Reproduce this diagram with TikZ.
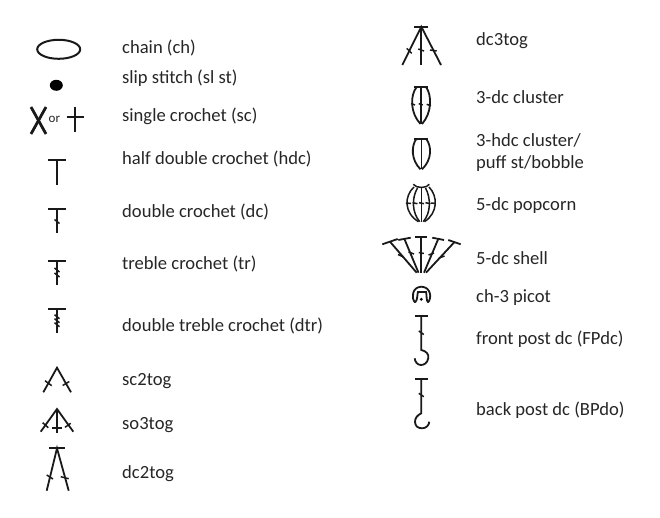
\documentclass[tikz,border=0pt]{standalone}
\usepackage{fontspec}
\setmainfont{Carlito}
\tikzset{>=stealth}
\tikzset{
    lbl/.style={anchor=west,inner sep=0pt,font=\fontsize{18.6}{22}\selectfont,text=black!85},
    sym/.style={line width=1.8pt,black!90},
    tick/.style={line width=1.5pt,black!90}
}

\begin{document}
\begin{tikzpicture}[x=1pt,y=-1pt]
    \useasboundingbox (0,0) rectangle (660,518);
    \def\lx{57}
    \def\rx{421.3}

    %left symbols
    \draw[sym,line width=2pt] (58.7,49.3) ellipse (21.5 and 9.5);
    \fill[black] (56.3,85.3) ellipse (6.5 and 5.5);
    \draw[sym,line width=2.8pt] (31,107) -- (46,134);
    \draw[sym,line width=2.8pt] (46,107) -- (31,134);
    \node[lbl,font=\fontsize{13}{15}\selectfont] (ortext) at (48.5,119) {or};
    \draw[sym] (75,106.7) -- (75,131.7);
    \draw[sym] (66.7,116.7) -- (84,116.7);

    \draw[sym] (\lx-9,160.3) -- (\lx+9,160.3);
    \draw[sym] (\lx,160.3) -- (\lx,185);

    \draw[sym] (\lx-9,209) -- (\lx+9,209);
    \draw[sym] (\lx,209) -- (\lx,233);
    \draw[tick] (\lx-2.5,219.5) -- (\lx+2.5,223.5);

    \draw[sym] (\lx-9,260.7) -- (\lx+9,260.7);
    \draw[sym] (\lx,260.7) -- (\lx,285);
    \draw[tick] (\lx-2.5,268) -- (\lx+2.5,272);
    \draw[tick] (\lx-2.5,273) -- (\lx+2.5,277);

    \draw[sym] (\lx-9,308.7) -- (\lx+9,308.7);
    \draw[sym] (\lx,308.7) -- (\lx,333.3);
    \draw[tick] (\lx-2.5,314.7) -- (\lx+2.5,318.7);
    \draw[tick] (\lx-2.5,318.7) -- (\lx+2.5,322.7);
    \draw[tick] (\lx-2.5,322.7) -- (\lx+2.5,326.7);

    \draw[sym] (43.3,392.3) -- (\lx,367.7) -- (71,392.3);
    \draw[tick] (45,380.7) -- (51.7,385.7);
    \draw[tick] (62.7,385.5) -- (69.3,381.5);

    \draw[sym] (40.7,431.7) -- (\lx,409) -- (73.3,431.7);
    \draw[sym,line width=2.3pt] (\lx,409) -- (\lx,432.7);
    \draw[sym,line width=2.3pt] (52.3,427.7) -- (61.7,427.7);
    \draw[tick] (42.7,422.7) -- (48.3,427.7);
    \draw[tick] (65,427.3) -- (70.7,423.3);

    \draw[sym] (49,448.3) -- (65,448.3);
    \draw[sym] (46.7,490.7) -- (\lx,448.3) -- (68.7,490.7);
    \draw[tick] (46.7,475) -- (53,479);
    \draw[tick] (60.7,476.7) -- (68.7,478.7);

    %right symbols
    \draw[sym] (\rx-7,26.7) -- (\rx+7,26.7);
    \draw[sym] (402.3,65) -- (\rx,26.7) -- (441,65);
    \draw[sym] (\rx,26.7) -- (\rx,65);
    \draw[tick] (406.7,48.3) -- (411.7,53.3);
    \draw[tick] (418.3,49) -- (424,51);
    \draw[tick] (430,50) -- (436.7,51);

    \draw[sym] (\rx-7,87) -- (\rx+7,87);
    \draw[sym] (\rx,87) -- (\rx,124);
    \draw[sym] (416.7,87) .. controls (410,95) and (410,113) .. (420.5,124);
    \draw[sym] (426,87) .. controls (432,95) and (432,113) .. (422,124);
    \draw[tick] (411,103.5) -- (415,105);
    \draw[tick] (418.7,103.7) -- (422.7,105);
    \draw[tick] (426.7,104.3) -- (431,105.7);

    \draw[sym] (\rx-7,138.7) -- (\rx+7,138.7);
    \draw[line width=1.3pt,black!90] (\rx,138.7) -- (\rx,169.3);
    \draw[sym] (416.5,138.7) .. controls (411,146) and (411,160) .. (420.5,169.3);
    \draw[sym] (426,138.7) .. controls (432,146) and (432,160) .. (422,169.3);

    \draw[sym,line width=1.5pt] (413.3,184.3) .. controls (416,188.5) and (427,188.5) .. (429.3,184.3);
    \draw[sym,line width=1.5pt] (\rx,187.5) -- (\rx,221.7);
    \draw[sym,line width=1.5pt] (414,187) .. controls (404,196) and (404,213) .. (418.5,221.7);
    \draw[sym,line width=1.5pt] (429,187) .. controls (438,196) and (438,213) .. (424.5,221.7);
    \draw[sym,line width=1.5pt] (417.5,188) .. controls (411.5,198) and (412,213) .. (419.8,221.7);
    \draw[sym,line width=1.5pt] (425.5,188) .. controls (431,198) and (431,213) .. (423.2,221.7);
    \draw[tick] (406,203) -- (411,203.5);
    \draw[tick] (412.5,202.7) -- (417.5,203.7);
    \draw[tick] (419,202.7) -- (424,203.7);
    \draw[tick] (425.5,202.7) -- (430.5,203.7);
    \draw[tick] (431,203) -- (435.7,203.5);

    %shell
    \draw[sym] (415,237.3) -- (427,237.3);
    \draw[sym] (\rx,237.3) -- (\rx,272.7);
    \draw[sym] (398.3,240) -- (410.7,237.7);
    \draw[sym] (404.3,238.7) -- (418.5,272.7);
    \draw[sym] (432.3,237.7) -- (444,240);
    \draw[sym] (438.3,238.8) -- (424,272.7);
    \draw[sym] (382.3,244.3) -- (397.7,239);
    \draw[sym] (390,241.7) -- (416.7,272.7);
    \draw[sym] (448.3,240) -- (460.7,244.3);
    \draw[sym] (454.5,242) -- (426,272.7);
    \draw[tick] (398,254.5) -- (403.5,257);
    \draw[tick] (408.5,252) -- (414,254);
    \draw[tick] (\rx-2.5,252.5) -- (\rx+2.5,253.5);
    \draw[tick] (428.5,255) -- (434,253);
    \draw[tick] (439,258) -- (444.5,256);

    %picot
    \draw[sym] (415,302.5) .. controls (411,298) and (412,287) .. (\rx,286.7) .. controls (431,287) and (432,298) .. (428,302.5);
    \draw[sym] (415,302.5) .. controls (418,300) and (417,294) .. (418,292) -- (426,292) .. controls (427,295) and (426,300) .. (428,302.5);
    \fill[black] (\rx,299.3) circle (1.6);

    %post stitches
    \draw[sym] (415,315.7) -- (428.3,315.7);
    \draw[sym] (\rx,315.7) -- (\rx,350) .. controls (426,351) and (429,354) .. (428.3,358) .. controls (427.5,363) and (424,365) .. (421,365) .. controls (417.5,365) and (415,362) .. (414.7,358.3);
    \draw[tick] (\rx-2.5,331) -- (\rx+2.5,334.5);

    \draw[sym] (415,378.7) -- (428.3,378.7);
    \draw[sym] (\rx,378.7) -- (\rx,413.3) .. controls (417.5,415) and (415,418) .. (415,421.7) .. controls (415,426) and (418,428.3) .. (422,428.3) .. controls (426,428.3) and (429,425.5) .. (429.3,421.7);
    \draw[tick] (\rx-2.5,393.3) -- (\rx+2.5,396.7);

    %labels
    \node[lbl] (chain) at (122,47.5) {chain (ch)};
    \node[lbl] (slip) at (122,78.5) {slip stitch (sl st)};
    \node[lbl] (sc) at (122,116.5) {single crochet (sc)};
    \node[lbl] (hdc) at (122,158.5) {half double crochet (hdc)};
    \node[lbl] (dc) at (122,211.5) {double crochet (dc)};
    \node[lbl] (tr) at (122,263.5) {treble crochet (tr)};
    \node[lbl] (dtr) at (122,325.5) {double treble crochet (dtr)};
    \node[lbl] (sctwo) at (122,381.5) {sc2tog};
    \node[lbl] (sothree) at (122,425.5) {so3tog};
    \node[lbl] (dctwo) at (122,473.5) {dc2tog};

    \node[lbl] (dcthree) at (476,40.5) {dc3tog};
    \node[lbl] (cluster) at (476,97.5) {3-dc cluster};
    \node[lbl,align=left] (puff) at (476,152.5) {3-hdc cluster/\\puff st/bobble};
    \node[lbl] (popcorn) at (476,205.5) {5-dc popcorn};
    \node[lbl] (shell) at (476,258.5) {5-dc shell};
    \node[lbl] (picot) at (476,297.5) {ch-3 picot};
    \node[lbl] (fpdc) at (476,339.5) {front post dc (FPdc)};
    \node[lbl] (bpdc) at (476,410.5) {back post dc (BPdo)};
\end{tikzpicture}
\end{document}
